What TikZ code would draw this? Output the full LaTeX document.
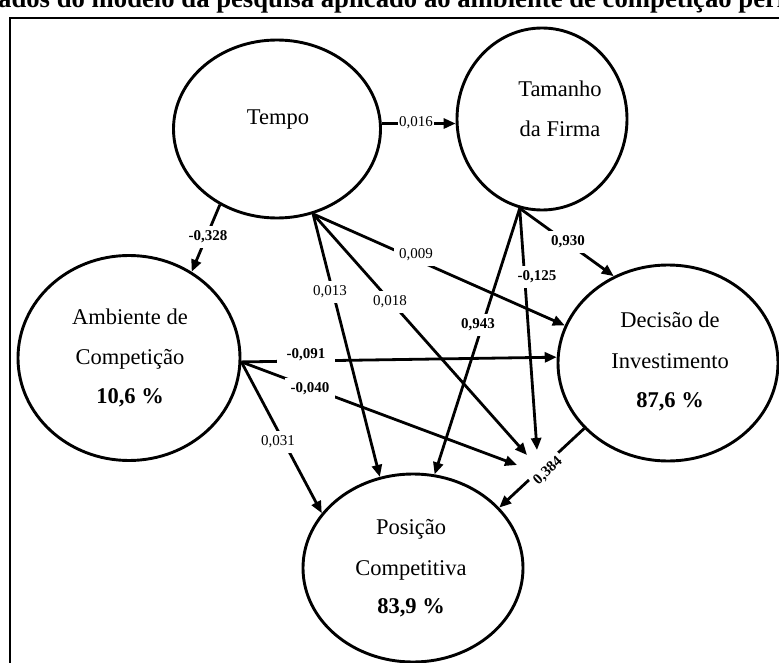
\documentclass[tikz,border=0pt]{standalone}
\usepackage{fontspec}
\setmainfont{Liberation Serif}
\usetikzlibrary{arrows.meta,shapes.geometric}

\begin{document}
\begin{tikzpicture}[x=1pt,y=-1pt,
  construct/.style={draw, ellipse, line width=2.9pt, inner sep=0pt},
  nodetext/.style={anchor=base, inner sep=0pt, font=\fontsize{22.5}{24}\selectfont},
  pcttext/.style={nodetext, font=\fontsize{22.5}{24}\selectfont\bfseries},
  conn/.style={line width=2.8pt, -{Triangle[length=12pt,width=10pt]}},
  coef/.style={fill=white, inner xsep=2pt, inner ysep=5pt, font=\fontsize{15}{15}\selectfont},
  bcoef/.style={coef, font=\fontsize{15}{15}\selectfont\bfseries},
]
\useasboundingbox (0,0) rectangle (779,663);
\clip (0,0) rectangle (779,663);
\fill[white] (0,0) rectangle (779,663);

% heading (runs past the edges) and frame
\node[anchor=base west, inner sep=0pt, font=\fontsize{26.7}{27}\selectfont\bfseries] (title) at (-2,8)
  {ados do modelo da pesquisa aplicado ao ambiente de competição perí};
\draw[line width=1.4pt] (10,700) -- (10,18) -- (800,18);

% constructs
\node[construct, minimum width=207pt, minimum height=178pt] (tempo) at (277,129) {};
\node[construct, minimum width=170pt, minimum height=182pt] (tam) at (542,119) {};
\node[construct, minimum width=222pt, minimum height=205pt] (amb) at (129,358) {};
\node[construct, minimum width=220pt, minimum height=196pt] (dec) at (668,363) {};
\node[construct, minimum width=220pt, minimum height=188pt] (pos) at (413,568) {};

% construct names
\node[nodetext] (tempoA) at (278,125) {Tempo};
\node[nodetext] (tamA) at (560,97) {Tamanho};
\node[nodetext] (tamB) at (560,137) {da Firma};
\node[nodetext] (ambA) at (130,324) {Ambiente de};
\node[nodetext] (ambB) at (130,364) {Competição};
\node[pcttext] (ambC) at (130,403) {10,6 \%};
\node[nodetext] (decA) at (670,327) {Decisão de};
\node[nodetext] (decB) at (670,368) {Investimento};
\node[pcttext] (decC) at (670,407) {87,6 \%};
\node[nodetext] (posA) at (411,534) {Posição};
\node[nodetext] (posB) at (411,575) {Competitiva};
\node[pcttext] (posC) at (411,613) {83,9 \%};

% ends of the moderating paths, next to the 0,384 path
\coordinate (modT) at (527,455);
\coordinate (modF) at (537,450);
\coordinate (modA) at (517,465);

% paths
\draw[conn] (tempo.east |- tam.183) -- (tam.183);
\draw[conn] (tempo.-127) -- (amb.54);
\draw[conn] (tempo.-67) -- (dec.160);
\draw[conn] (tempo.-67) -- (pos.110);
\draw[conn] (tempo.-67) -- (modT);
\draw[conn] (tam.-104) -- (dec.122);
\draw[conn] (tam.-104) -- (pos.77);
\draw[conn] (tam.-104) -- (modF);
\draw[conn] (amb.-2) -- (dec.177);
\draw[conn] (amb.-2) -- (modA);
\draw[conn] (amb.-2) -- (pos.149);
\draw[conn] (dec.218) -- (pos.35);

% path coefficients
\node[coef, inner xsep=1pt] (c016) at (416,123) {0,016};
\node[bcoef] (c328) at (208,237) {-0,328};
\node[coef, inner xsep=5pt] (c009) at (416,255) {0,009};
\node[coef] (c013) at (330,292) {0,013};
\node[coef] (c018) at (390,302) {0,018};
\node[bcoef] (c930) at (568,242) {0,930};
\node[bcoef] (c943) at (478,325) {0,943};
\node[bcoef] (c125) at (537,277) {-0,125};
\node[bcoef, inner xsep=10pt] (c091) at (306,355) {-0,091};
\node[bcoef, inner xsep=6pt] (c040) at (310,389) {-0,040};
\node[coef] (c031) at (278,442) {0,031};
\node[bcoef, rotate=43, inner xsep=3pt] (c384) at (548,471) {0,384};
\end{tikzpicture}
\end{document}
